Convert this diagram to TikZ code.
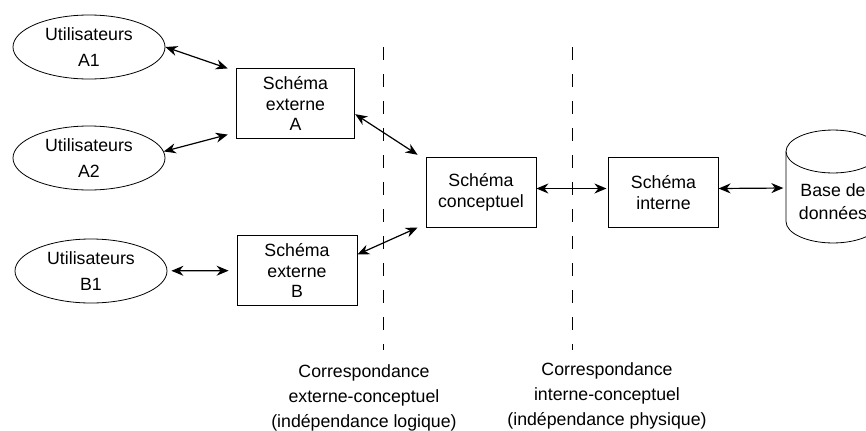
\documentclass[tikz,border=0pt]{standalone}
\usepackage{fontspec}
\setmainfont{Liberation Sans}
\usetikzlibrary{calc,
shapes.geometric,
arrows.meta,
positioning}

\begin{document}
\begin{tikzpicture} [x=0.75pt, y=0.75pt,
        font=\fontsize{13.3}{15.5}\selectfont,
        conn/.style={{Stealth[length=9pt,width=7.5pt]}-{Stealth[length=9pt,width=7.5pt]},
                line width=0.9pt},
        user node/.style={ellipse, draw, line width=0.6pt, inner sep=0pt,
                minimum width=114pt, minimum height=48pt, align=center,
                font=\fontsize{13.3}{19.5}\selectfont},
        schema node/.style={rectangle, draw, line width=0.6pt, inner sep=0pt,
                minimum height=52pt, align=center},
        sep line/.style={dash pattern=on 9.75pt off 10.5pt, line width=0.7pt}]

    \useasboundingbox (0,0) rectangle (866,430);

    % utilisateurs
    \node [user node] (u_a1) at (89,383) {Utilisateurs\\A1};
    \node [user node] (u_a2) at (89,272) {Utilisateurs\\A2};
    \node [user node] (u_b1) at (91,159) {Utilisateurs\\B1};

    % schemas
    \node [
        schema node,
        minimum width = 89pt
    ] (ext_a) at (295.5,326.5) {Schéma\\externe\\A};

    \node [
        schema node,
        minimum width = 90pt
    ] (ext_b) at (297,159.5) {Schéma\\externe\\B};

    \node [
        schema node,
        minimum width = 82.5pt
    ] (conc) at (481,237.5) {Schéma\\conceptuel};

    \node [
        schema node,
        minimum width = 82pt
    ] (int) at (663.5,237.5) {Schéma\\interne};

    % base de donnees
    \node [
        inner sep = 0pt,
        minimum width = 70.5pt,
        align = center,
        font = \fontsize{13.3}{17}\selectfont
    ] (bdd) at (833,228.5) {Base de\\données};
    \draw [line width=0.6pt] (786,278.5) -- (786,208.5)
        arc [start angle=180, end angle=360, x radius=35.25pt, y radius=16.1pt]
        -- (880,278.5);
    \draw [line width=0.6pt] (833,278.5) ellipse [x radius=35.25pt, y radius=16.1pt];
    \coordinate (bdd_w) at (786,242);

    % correspondances
    \draw [sep line] (383,383) -- (383,80);
    \draw [sep line] (572,383) -- (572,80);

    \node [
        align = center,
        font = \fontsize{13.3}{18.75}\selectfont
    ] (corr_ext) at (364,32) {Correspondance\\externe-conceptuel\\(indépendance logique)};

    \node [
        align = center,
        font = \fontsize{13.3}{18.75}\selectfont
    ] (corr_int) at (607,34) {Correspondance\\interne-conceptuel\\(indépendance physique)};

    % liens
    \draw [conn] (u_a1.east) -- ([xshift=-6pt]ext_a.north west);
    \draw [conn] (u_a2.5) -- ([shift={(-6pt,3pt)}]ext_a.south west);
    \draw [conn, shorten <=3pt, shorten >=6pt] (u_b1) -- (ext_b);
    \draw [conn] ([yshift=-8pt]ext_a.east) -- ([shift={(-6pt,2pt)}]conc.north west);
    \draw [conn] ([yshift=12pt]ext_b.east) -- ([xshift=-6pt]conc.south west);
    \draw [conn, shorten >=1.5pt] ([yshift=3pt]conc.east) -- ([yshift=3pt]int.west);
    \draw [conn, shorten >=2pt] ([yshift=3pt]int.east) -- (bdd_w);

\end{tikzpicture}
\end{document}
